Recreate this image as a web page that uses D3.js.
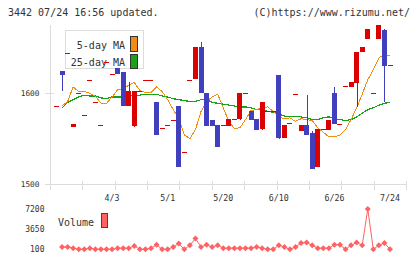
<!DOCTYPE html>
<html><head><meta charset="utf-8">
<script src="https://cdn.jsdelivr.net/npm/d3@7/dist/d3.min.js"></script>
<style>
body{margin:0;background:#fff;}
svg{display:block;}
text{font-family:"DejaVu Sans Mono","Liberation Mono",monospace;fill:#333;}
</style>
</head><body>
<svg id="c" width="420" height="259"></svg>
<script>
const title = "3442 07/24 16:56 updated.";
const credit = "(C)https://www.rizumu.net/";
const opens  = [1586,1625,1644,1563,1600,1576,1615,1590,1565,1634,1621,1628,1623,1586,1563,1602,1615,1615,1590,1562,1565,1571,1586,1535,1615,1616,1651,1600,1571,1565,1565,1564,1572,1571,1600,1581,1572,1560,1581,1580,1620,1551,1567,1599,1558,1565,1556,1519,1561,1560,1600,1566,1608,1607,1612,1646,1660,1600,1660,1670,1631];
const highs  = [1586,1625,1644,1566,1600,1576,1615,1590,1565,1634,1621,1628,1623,1612,1602,1602,1615,1615,1590,1562,1565,1571,1586,1535,1615,1651,1657,1600,1571,1565,1565,1572,1572,1600,1600,1581,1572,1590,1581,1580,1620,1565,1567,1599,1565,1598,1558,1561,1561,1571,1607,1566,1608,1613,1646,1651,1671,1600,1675,1671,1631];
const lows   = [1586,1603,1644,1563,1600,1576,1615,1590,1565,1634,1621,1621,1586,1586,1563,1602,1615,1615,1554,1562,1565,1571,1519,1535,1615,1616,1600,1564,1564,1541,1565,1564,1572,1571,1600,1571,1560,1560,1581,1580,1550,1551,1567,1599,1558,1554,1516,1519,1561,1560,1566,1566,1608,1607,1585,1646,1660,1600,1660,1590,1631];
const closes = [1586,1621,1644,1566,1600,1576,1615,1590,1565,1634,1621,1621,1586,1602,1602,1602,1615,1615,1554,1562,1565,1571,1519,1535,1615,1651,1600,1564,1564,1541,1565,1572,1572,1600,1600,1571,1560,1590,1581,1580,1550,1565,1567,1599,1565,1554,1516,1561,1561,1571,1566,1566,1608,1613,1646,1651,1671,1600,1675,1630,1631];
const ma5  = [null,1586,1591,1607,1602,1602,1600,1597,1589,1589,1596,1604,1605,1609,1612,1603,1601,1601,1607,1602,1593,1582,1572,1554,1550,1560,1580,1591,1596,1599,1584,1569,1561,1562,1571,1581,1582,1584,1585,1580,1574,1572,1573,1569,1572,1571,1570,1562,1557,1552,1552,1554,1560,1571,1584,1599,1615,1626,1639,1643,1641];
const ma25 = [null,1584,1590,1593,1596,1598,1597,1597,1595,1594,1596,1596,1596,1597,1598,1598,1599,1599,1599,1597,1596,1594,1593,1592,1591,1591,1593,1593,1590,1589,1588,1587,1586,1585,1585,1584,1582,1582,1580,1579,1577,1575,1574,1574,1574,1573,1571,1571,1573,1574,1572,1571,1570,1571,1574,1578,1582,1584,1587,1589,1590];
const volumes = [null,500,500,300,100,100,300,100,100,100,100,300,300,300,700,100,100,300,900,100,100,500,1100,100,800,2000,500,900,500,800,300,300,300,300,300,300,500,300,100,100,800,500,100,500,1200,1300,800,300,300,300,900,900,100,800,1300,800,7200,100,800,1200,100];
const xTickLabels = ["4/3","5/1","5/20","6/10","6/26","7/24"];
const xTickIndex = [10,20,30,40,50,60];
const priceTicks = [1500,1600];
const volumeTicks = [100,3650,7200];
const legendNames = ["5-day MA","25-day MA"];

const svg = d3.select("#c");
const n = opens.length;
const x = d3.scalePoint().domain(d3.range(n)).range([56.5, 390]);
const y = d3.scaleLinear().domain([1500,1600]).range([184,93.3]);
const yv = d3.scaleLinear().domain([100,7200]).range([249.3,209]);
const grid = "#dcdcdc";
const RED = "#dd0000", BLUE = "#4040bf", ORANGE = "#f28c12", GREEN = "#17a317", VOL = "#ff6262";

// header
svg.append("text").attr("x",8).attr("y",16).attr("font-size","10px").text(title);
svg.append("text").attr("x",410).attr("y",16).attr("font-size","10px").attr("text-anchor","end").text(credit);

// axes
svg.append("line").attr("x1",50.5).attr("x2",50.5).attr("y1",25).attr("y2",190).attr("stroke",grid).attr("shape-rendering","crispEdges");
svg.append("line").attr("x1",50).attr("x2",406).attr("y1",184.5).attr("y2",184.5).attr("stroke",grid).attr("shape-rendering","crispEdges");
const tickScale = d3.scaleLinear().domain([0,11]).range([50,406]);
svg.append("g").selectAll("line").data(d3.range(12)).join("line")
  .attr("x1",d=>Math.round(tickScale(d))+0.5).attr("x2",d=>Math.round(tickScale(d))+0.5)
  .attr("y1",181).attr("y2",190).attr("stroke",grid).attr("shape-rendering","crispEdges");
svg.append("g").selectAll("text").data(xTickLabels).join("text")
  .attr("x",(d,i)=>x(xTickIndex[i])).attr("y",200.5).attr("text-anchor","middle")
  .attr("font-size","8.3px").text(d=>d);
svg.append("g").selectAll("line").data(priceTicks).join("line")
  .attr("x1",45).attr("x2",54).attr("y1",d=>Math.round(y(d))+0.5).attr("y2",d=>Math.round(y(d))+0.5)
  .attr("stroke",grid).attr("shape-rendering","crispEdges");
svg.append("g").selectAll("text").data(priceTicks).join("text")
  .attr("x",39.5).attr("y",d=>y(d)+2.8).attr("text-anchor","end").attr("font-size","7.8px").text(d=>d);

// legend (under candles)
svg.append("rect").attr("x",65.5).attr("y",30.5).attr("width",78).attr("height",38)
  .attr("fill","#fff").attr("stroke",grid).attr("shape-rendering","crispEdges");
const legColors = [ORANGE, GREEN];
legendNames.forEach((name,i)=>{
  svg.append("text").attr("x",125).attr("y",48.8+i*17.5).attr("text-anchor","end").attr("font-size","10px").text(name);
  svg.append("rect").attr("x",130.5).attr("y",36.5+i*17.5).attr("width",7).attr("height",14.5)
    .attr("fill",legColors[i]).attr("stroke","#333").attr("shape-rendering","crispEdges");
});

// MA lines
const lineGen = d3.line().defined(d=>d[1]!=null).x(d=>x(d[0])).y(d=>y(d[1]));
svg.append("path").attr("d",lineGen(ma25.map((v,i)=>[i,v]))).attr("fill","none").attr("stroke",GREEN).attr("stroke-width",1.2).attr("shape-rendering","crispEdges");
svg.append("path").attr("d",lineGen(ma5.map((v,i)=>[i,v]))).attr("fill","none").attr("stroke",ORANGE).attr("stroke-width",1).attr("shape-rendering","crispEdges");

// candles
const cd = d3.range(n).map(i=>({i,o:opens[i],h:highs[i],l:lows[i],c:closes[i]}));
const col = d=> d.c < d.o ? BLUE : RED;
const g = svg.append("g").attr("shape-rendering","crispEdges");
g.selectAll("line").data(cd.filter(d=>d.h>d.l)).join("line")
  .attr("x1",d=>Math.round(x(d.i))+0.5).attr("x2",d=>Math.round(x(d.i))+0.5)
  .attr("y1",d=>y(d.h)).attr("y2",d=>y(d.l)).attr("stroke",col);
g.selectAll("rect").data(cd).join("rect")
  .attr("x",d=>Math.round(x(d.i)-2.5)).attr("width",5)
  .attr("y",d=>Math.round(y(Math.max(d.o,d.c))))
  .attr("height",d=>Math.max(1,Math.round(Math.abs(y(d.o)-y(d.c)))))
  .attr("fill",col);

// volume
svg.append("g").selectAll("text").data(volumeTicks).join("text")
  .attr("x",44.5).attr("y",d=>yv(d)+2.8).attr("text-anchor","end").attr("font-size","8px").text(d=>d);
svg.append("text").attr("x",58).attr("y",226).attr("font-size","10px").text("Volume");
svg.append("rect").attr("x",101.5).attr("y",213.5).attr("width",6).attr("height",14)
  .attr("fill",VOL).attr("stroke","#444").attr("shape-rendering","crispEdges");
const vd = volumes.map((v,i)=>[i,v]).filter(d=>d[1]!=null);
svg.append("path").attr("d",d3.line().x(d=>x(d[0])).y(d=>yv(d[1]))(vd)).attr("fill","none").attr("stroke",VOL).attr("stroke-width",1);
svg.append("g").selectAll("path").data(vd).join("path")
  .attr("transform",d=>`translate(${x(d[0])},${yv(d[1])})`)
  .attr("d","M0,-3L3,0L0,3L-3,0Z").attr("fill",VOL);
</script>
</body></html>
